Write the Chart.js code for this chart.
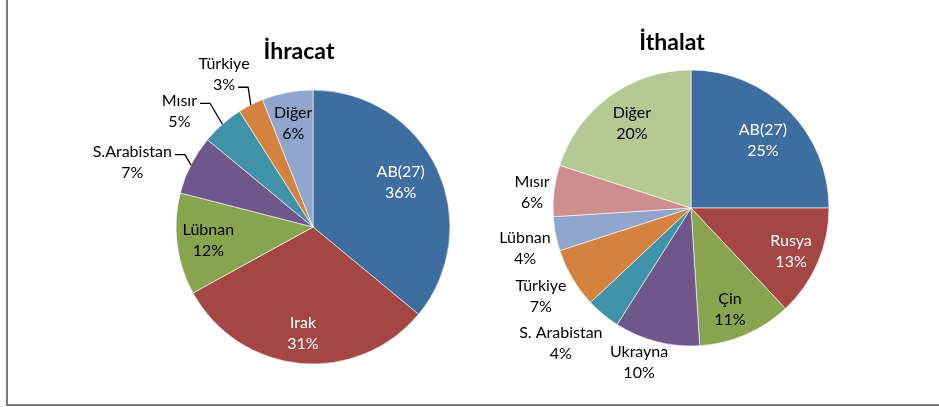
<!DOCTYPE html>
<html>
<head>
<meta charset="utf-8">
<script src="https://cdn.jsdelivr.net/npm/chart.js@4.4.0/dist/chart.umd.min.js"></script>
<style>
  body { margin: 0; background: #fff; }
  #wrap { position: relative; width: 939px; height: 407px; overflow: hidden; }
  #frame { position: absolute; left: 6px; top: -2px; width: 940px; height: 408px;
           border-left: 2px solid #7a7a7a; border-bottom: 2px solid #7a7a7a; box-sizing: border-box; }
  canvas { position: absolute; left: 0; top: 0; }
</style>
</head>
<body>
<div id="wrap">
  <div id="frame"></div>
  <canvas id="exportChart" width="939" height="407"></canvas>
  <canvas id="importChart" width="939" height="407"></canvas>
</div>
<script>
// İhracat (export) shares, %
const exportLabels = ['AB(27)', 'Irak', 'Lübnan', 'S.Arabistan', 'Mısır', 'Türkiye', 'Diğer'];
const exportShares = [36, 31, 12, 7, 5, 3, 6];

// İthalat (import) shares, %
const importLabels = ['AB(27)', 'Rusya', 'Çin', 'Ukrayna', 'S. Arabistan', 'Türkiye', 'Lübnan', 'Mısır', 'Diğer'];
const importShares = [25, 13, 11, 10, 4, 7, 4, 6, 20];

// styling
const exportColors = ['#3e6d9f', '#a44644', '#88a44e', '#6f578c', '#3f92a8', '#d6823f', '#8fa5cb'];
const exportText = ['#fff', '#fff', '#000', '#000', '#000', '#000', '#000'];
const importColors = ['#3e6d9f', '#a44644', '#88a44e', '#6f578c', '#3f92a8', '#d6823f', '#8fa5cb', '#cd8e8d', '#b5c995'];
const importText = ['#fff', '#fff', '#000', '#000', '#000', '#000', '#000', '#000', '#000'];

// label placement relative to each slice: [radius factor, angle shift in deg, leader line row or -1]
const exportPlace = [[0.72, -2, -1], [0.78, 0, -1], [0.77, 0, -1], [1.40, -7.4, 0], [1.29, -7.7, 0], [1.29, -3.2, 1], [0.77, 0, -1]];
const importPlace = [[0.715, 1.8, -1], [0.79, 0, -1], [0.785, 2.3, -1], [1.18, 4.2, -1], [1.36, 4.3, -1],
                     [1.264, 0, -1], [1.238, -2.9, -1], [1.158, -1.5, -1], [0.75, 1.2, -1]];

const FONT = 'Lato, "Open Sans", sans-serif';
const LINE_H = 21;

const pieLabels = {
  id: 'pieLabels',
  afterDatasetsDraw(chart, args, opts) {
    const ctx = chart.ctx;
    const arcs = chart.getDatasetMeta(0).data;
    const names = chart.data.labels;
    const vals = chart.data.datasets[0].data;
    ctx.save();
    ctx.font = '16px ' + FONT;
    ctx.textAlign = 'center';
    ctx.textBaseline = 'middle';
    arcs.forEach((arc, i) => {
      const p = arc.getProps(['x', 'y', 'startAngle', 'endAngle', 'outerRadius'], true);
      const mid = (p.startAngle + p.endAngle) / 2;
      const [f, dA, row] = opts.place[i];
      const a = mid + dA * Math.PI / 180;
      const cx = p.x + Math.cos(a) * p.outerRadius * f;
      const cy = p.y + Math.sin(a) * p.outerRadius * f;
      const lines = [names[i], vals[i] + '%'];
      ctx.fillStyle = opts.text[i];
      lines.forEach((t, k) => ctx.fillText(t, cx, cy + (k - 0.5) * LINE_H));
      if (row >= 0) {
        const w = ctx.measureText(lines[row]).width;
        const ly = cy + (row - 0.5) * LINE_H + 2.5;
        const x0 = cx + w / 2 + 3;
        const ex = p.x + Math.cos(mid) * p.outerRadius;
        const ey = p.y + Math.sin(mid) * p.outerRadius;
        ctx.strokeStyle = '#000';
        ctx.lineWidth = 1.3;
        ctx.beginPath();
        ctx.moveTo(x0, ly);
        ctx.lineTo(x0 + 10, ly);
        ctx.lineTo(ex, ey);
        ctx.stroke();
      }
    });
    // title
    ctx.fillStyle = '#000';
    ctx.font = 'bold 23px ' + FONT;
    ctx.fillText(opts.title, opts.titleX, opts.titleY);
    ctx.restore();
  }
};

function makePie(id, labels, values, colors, text, place, title, titleX, titleY, radius, padding) {
  new Chart(document.getElementById(id), {
    type: 'pie',
    data: {
      labels: labels,
      datasets: [{
        data: values,
        backgroundColor: colors,
        borderColor: 'rgba(255,255,255,0.6)',
        borderWidth: 1
      }]
    },
    options: {
      responsive: false,
      animation: false,
      radius: radius,
      layout: { padding: padding },
      plugins: {
        legend: { display: false },
        tooltip: { enabled: false },
        pieLabels: { text: text, place: place, title: title, titleX: titleX, titleY: titleY }
      }
    },
    plugins: [pieLabels]
  });
}

makePie('exportChart', exportLabels, exportShares, exportColors, exportText, exportPlace,
  'İhracat', 299, 52, 137, { left: 0, right: 313, top: 47, bottom: 0 });
makePie('importChart', importLabels, importShares, importColors, importText, importPlace,
  'İthalat', 672, 43, 138, { left: 443, right: 0, top: 9, bottom: 0 });
</script>
</body>
</html>
